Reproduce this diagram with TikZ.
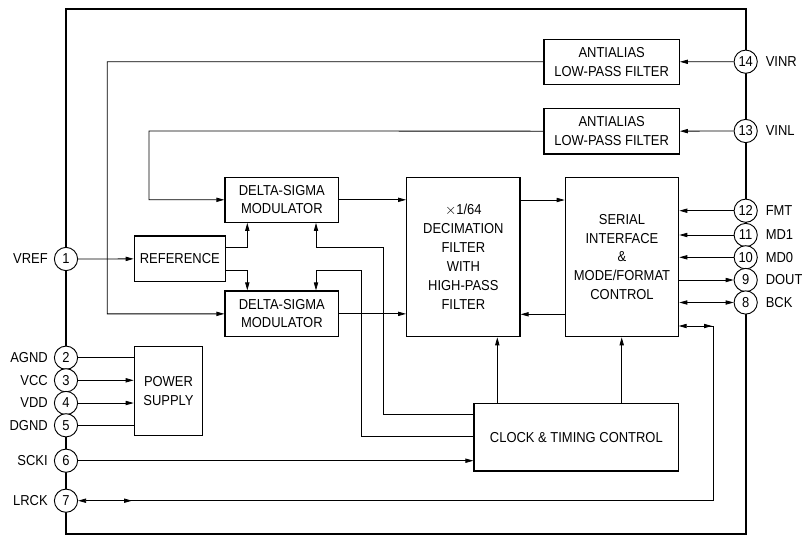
\documentclass[tikz,border=0pt]{standalone}
\usepackage{fontspec}
\setmainfont{Liberation Sans}[FakeStretch=0.9]
\usetikzlibrary{arrows.meta}
\begin{document}
\begin{tikzpicture}[x=0.75pt,y=-0.75pt,
  box/.style={draw,line width=0.9pt,inner sep=0pt,align=center,
    font=\fontsize{10.8}{14.2}\selectfont},
  pinc/.style={draw,circle,line width=0.7pt,fill=white,minimum size=17.4pt,inner sep=0pt,
    font=\fontsize{10.8}{12}\selectfont},
  lab/.style={font=\fontsize{10.8}{12}\selectfont,inner sep=0pt},
  wire/.style={line width=0.6pt},
  arr/.style={wire,-{Triangle[length=6pt,width=3.2pt]}},
  barr/.style={wire,{Triangle[length=6pt,width=3.2pt]}-{Triangle[length=6pt,width=3.2pt]}}]
\useasboundingbox (0,0) rectangle (802,536);
% frame
\draw[line width=1.6pt] (66,9) rectangle (745.7,534.3);
% boxes
\node[box,minimum width=101.5pt,minimum height=33.75pt] (aa14) at (611.65,61.8) {ANTIALIAS\\LOW-PASS FILTER};
\node[box,minimum width=101.5pt,minimum height=34.3pt] (aa13) at (611.65,131.15) {ANTIALIAS\\LOW-PASS FILTER};
\node[box,minimum width=85.3pt,minimum height=33.75pt,font=\fontsize{10.8}{13.6}\selectfont] (dsm1) at (281.85,199.8) {DELTA-SIGMA\\MODULATOR};
\node[box,minimum width=85.3pt,minimum height=34.3pt,font=\fontsize{10.8}{13.6}\selectfont] (dsm2) at (281.85,313.85) {DELTA-SIGMA\\MODULATOR};
\node[box,minimum width=68.25pt,minimum height=34.3pt] (ref) at (179.8,258.85) {REFERENCE};
\node[box,minimum width=51.3pt,minimum height=66.75pt] (ps) at (168.5,390.8) {POWER\\SUPPLY};
\node[box,minimum width=85pt,minimum height=119.55pt] (dec) at (463.35,257) {$\times$1/64\\DECIMATION\\FILTER\\WITH\\HIGH-PASS\\FILTER};
\node[box,minimum width=85.05pt,minimum height=119.55pt] (ser) at (622,257) {SERIAL\\INTERFACE\\\&\\MODE/FORMAT\\CONTROL};
\node[box,minimum width=153.5pt,minimum height=50.8pt] (clk) at (576.35,437.15) {CLOCK \& TIMING CONTROL};
% left pins
\node[pinc] (p1) at (66,259) {1};
\node[pinc] (p2) at (66,357.7) {2};
\node[pinc] (p3) at (66,380.3) {3};
\node[pinc] (p4) at (66,403) {4};
\node[pinc] (p5) at (66,425.3) {5};
\node[pinc] (p6) at (66,460.7) {6};
\node[pinc] (p7) at (66,500.7) {7};
\node[lab,anchor=east] (l1) at (48,259) {VREF};
\node[lab,anchor=east] (l2) at (48,357.7) {AGND};
\node[lab,anchor=east] (l3) at (48,380.3) {VCC};
\node[lab,anchor=east] (l4) at (48,403) {VDD};
\node[lab,anchor=east] (l5) at (48,425.3) {DGND};
\node[lab,anchor=east] (l6) at (48,460.7) {SCKI};
\node[lab,anchor=east] (l7) at (48,500.7) {LRCK};
% right pins
\node[pinc] (p14) at (745.7,61.7) {14};
\node[pinc] (p13) at (745.7,131) {13};
\node[pinc] (p12) at (745.7,210.7) {12};
\node[pinc] (p11) at (745.7,235) {11};
\node[pinc] (p10) at (745.7,257.3) {10};
\node[pinc] (p9) at (745.7,280) {9};
\node[pinc] (p8) at (745.7,302.5) {8};
\node[lab,anchor=west] (l14) at (765.5,61.7) {VINR};
\node[lab,anchor=west] (l13) at (765.5,131) {VINL};
\node[lab,anchor=west] (l12) at (765.5,210.7) {FMT};
\node[lab,anchor=west] (l11) at (765.5,235) {MD1};
\node[lab,anchor=west] (l10) at (765.5,257.3) {MD0};
\node[lab,anchor=west] (l9) at (765.5,280) {DOUT};
\node[lab,anchor=west] (l8) at (765.5,302.5) {BCK};
% bend coordinates
\coordinate (c14) at (107.3,61.7);
\coordinate (c13) at (149,131);
\coordinate (ra) at (225.3,247.3);
\coordinate (rb) at (225.3,270);
\coordinate (ka) at (474,414);
\coordinate (kb) at (474,436.7);
\coordinate (xa) at (383.3,414);
\coordinate (xb) at (361,436.7);
\coordinate (ya) at (316,247.3);
\coordinate (yb) at (316,270);
\coordinate (d1) at (520,200);
\coordinate (d2) at (565.3,314.3);
\coordinate (lr) at (713.8,500.7);
\coordinate (ls) at (678.7,326);
% input filters
\draw[arr] (p14.west) -- (aa14.east);
\draw[arr] (p13.west) -- (aa13.east);
\draw[arr] (aa14.west) -- (c14) |- (dsm2.west);
\draw[arr] (aa13.west) -- (c13) |- (dsm1.west);
% reference
\draw[arr] (p1.east) -- (ref.west);
\draw[arr] (ra) -| (dsm1.south -| 247.3,0);
\draw[arr] (rb) -| (dsm2.north -| 247.3,0);
% clock to modulators
\draw[arr] (ka) -- (xa) |- (ya) -- (dsm1.south -| ya);
\draw[arr] (kb) -- (xb) |- (yb) -- (dsm2.north -| yb);
% modulators to decimation
\draw[arr] (dsm1.east) -- (dsm1.east -| dec.west);
\draw[arr] (dsm2.east) -- (dsm2.east -| dec.west);
\draw[arr] (d1) -- (d1 -| ser.west);
\draw[arr] (d2) -- (d2 -| dec.east);
\draw[arr] (clk.north -| 497.3,0) -- (dec.south -| 497.3,0);
\draw[arr] (clk.north -| 621.7,0) -- (ser.south -| 621.7,0);
\draw[arr] (p6.east) -- (p6.east -| clk.west);
% serial pins
\draw[arr] (p12.west) -- (p12.west -| ser.east);
\draw[arr] (p11.west) -- (p11.west -| ser.east);
\draw[arr] (p10.west) -- (p10.west -| ser.east);
\draw[arr] (p9.west -| ser.east) -- (p9.west);
\draw[barr] (p8.west -| ser.east) -- (p8.west);
% LRCK
\draw[barr] (p7.east) -- (lr) |- (ls);
\draw[arr] (124,500.7) -- (132,500.7);
\draw[arr] (704,326) -- (712,326);
% power supply
\draw[wire] (p2.east) -- (p2.east -| ps.west);
\draw[arr] (p3.east) -- (p3.east -| ps.west);
\draw[arr] (p4.east) -- (p4.east -| ps.west);
\draw[wire] (p5.east) -- (p5.east -| ps.west);
\end{tikzpicture}
\end{document}
